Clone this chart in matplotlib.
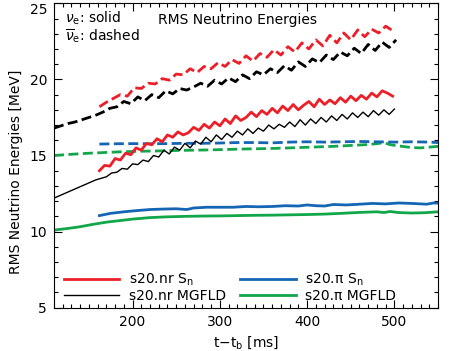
import numpy as np
import matplotlib
matplotlib.use('Agg')
import matplotlib.pyplot as plt

plt.rcParams['font.family'] = ['DejaVu Sans']
plt.rcParams['mathtext.fontset'] = 'dejavusans'

# colours of the four runs
c_red = '#ec1f28'
c_blue = '#1466b4'
c_green = '#12a64a'

# s20.nr Sn, nu_e (solid red)
t_nr_sn = np.arange(162, 499, 6)
e_nr_sn_nue = [14.0, 14.35, 14.3, 14.8, 14.7, 15.15, 15.05, 15.5, 15.35, 15.8,
               15.7, 16.1, 15.9, 16.35, 16.2, 16.55, 16.35, 16.5, 16.85, 16.65,
               17.05, 16.8, 17.2, 16.95, 17.4, 17.1, 17.6, 17.3, 17.5, 17.85,
               17.55, 17.95, 17.7, 18.1, 17.8, 18.25, 17.95, 18.35, 18.0, 18.3,
               18.55, 18.2, 18.7, 18.35, 18.65, 18.4, 18.8, 18.5, 18.9, 18.6,
               18.95, 18.7, 19.1, 18.85, 19.25, 19.1, 18.9]

# s20.nr MGFLD, nu_e (solid black)
t_nr_mg = np.arange(110, 501, 6)
e_nr_mg_nue = [12.2, 12.35, 12.5, 12.65, 12.8, 12.95, 13.1, 13.25, 13.4, 13.5,
               13.6, 13.85, 13.9, 14.15, 14.1, 14.45, 14.4, 14.7, 14.6, 15.0,
               14.9, 15.35, 15.1, 15.55, 15.35, 15.8, 15.5, 15.95, 15.75, 16.2,
               15.9, 16.35, 16.05, 16.45, 16.2, 16.6, 16.35, 16.75, 16.45, 16.8,
               16.6, 17.0, 16.75, 17.05, 16.85, 17.2, 16.9, 17.35, 17.0, 17.4,
               17.1, 17.5, 17.2, 17.6, 17.3, 17.7, 17.4, 17.8, 17.5, 17.85,
               17.55, 17.95, 17.65, 18.0, 17.7, 18.05]

# anti nu_e, dashed
t_nr_sn_b = np.arange(162, 499, 8)
e_nr_sn_nueb = [18.2, 18.5, 18.75, 19.0, 18.9, 19.45, 19.4, 19.75, 19.7, 20.05,
                19.95, 20.35, 20.3, 20.7, 20.45, 20.85, 20.7, 21.1, 20.85, 21.3,
                21.05, 21.55, 21.2, 21.7, 21.45, 21.95, 21.6, 22.15, 21.8, 22.4,
                22.0, 22.6, 22.2, 22.9, 22.4, 23.05, 22.6, 23.25, 22.8, 23.3,
                23.05, 23.5, 23.2]

t_nr_mg_b = np.arange(110, 503, 8)
e_nr_mg_nueb = [16.8, 16.95, 17.1, 17.2, 17.35, 17.5, 17.65, 17.85, 18.1, 18.2,
                18.55, 18.4, 18.85, 18.6, 19.0, 18.8, 19.25, 19.05, 19.4, 19.3,
                19.5, 19.75, 19.55, 19.95, 19.7, 20.1, 19.85, 20.3, 20.05, 20.5,
                20.3, 20.7, 20.45, 20.9, 20.6, 21.15, 20.85, 21.35, 21.1, 21.6,
                21.3, 21.8, 21.55, 22.05, 21.7, 22.3, 21.9, 22.45, 22.1, 22.6]

# s20.pi runs
t_pi_sn_b = [162, 180, 200, 220, 240, 260, 280, 300, 320, 340, 360, 380, 400,
             420, 440, 460, 480, 500, 520, 540, 550]
e_pi_sn_nueb = [15.75, 15.77, 15.78, 15.77, 15.78, 15.8, 15.8, 15.82, 15.85,
                15.85, 15.83, 15.88, 15.9, 15.88, 15.9, 15.92, 15.9, 15.88,
                15.9, 15.88, 15.85]

t_pi_mg_b = [110, 130, 150, 170, 190, 210, 230, 250, 270, 290, 310, 330, 350,
             370, 390, 410, 430, 450, 470, 480, 488, 496, 506, 520, 530, 540, 550]
e_pi_mg_nueb = [15.0, 15.08, 15.15, 15.2, 15.25, 15.28, 15.3, 15.33, 15.35,
                15.37, 15.4, 15.43, 15.45, 15.48, 15.52, 15.56, 15.6, 15.66,
                15.72, 15.78, 15.84, 15.7, 15.62, 15.52, 15.5, 15.55, 15.6]

t_pi_sn = [162, 175, 190, 205, 220, 235, 250, 262, 270, 285, 300, 315, 330, 345,
           360, 375, 390, 400, 410, 420, 430, 445, 460, 475, 490, 505, 520, 530,
           537, 545, 550]
e_pi_sn_nue = [11.05, 11.2, 11.3, 11.38, 11.45, 11.48, 11.5, 11.45, 11.55, 11.6,
               11.6, 11.6, 11.65, 11.63, 11.65, 11.7, 11.68, 11.75, 11.7, 11.68,
               11.78, 11.75, 11.8, 11.85, 11.82, 11.88, 11.85, 11.82, 11.8,
               11.88, 11.87]

t_pi_mg = [110, 125, 140, 155, 170, 185, 200, 220, 240, 260, 280, 300, 320, 340,
           360, 380, 400, 420, 440, 460, 470, 480, 488, 495, 505, 520, 535, 550]
e_pi_mg_nue = [10.1, 10.2, 10.32, 10.48, 10.62, 10.72, 10.82, 10.92, 10.97,
               11.0, 11.02, 11.03, 11.05, 11.07, 11.08, 11.1, 11.12, 11.15, 11.2,
               11.26, 11.28, 11.3, 11.25, 11.32, 11.25, 11.22, 11.24, 11.3]

fig = plt.figure(figsize=(4.52, 3.51), dpi=100)
ax = fig.add_axes([0.1195, 0.1234, 0.8496, 0.8672])

dash = (3.6, 1.6)
lw = 2.0

# dashed: anti electron neutrinos
ax.plot(t_nr_mg_b, e_nr_mg_nueb, color='black', lw=lw, dashes=dash)
ax.plot(t_nr_sn_b, e_nr_sn_nueb, color=c_red, lw=lw, dashes=dash)
ax.plot(t_pi_mg_b, e_pi_mg_nueb, color=c_green, lw=lw, dashes=dash)
ax.plot(t_pi_sn_b, e_pi_sn_nueb, color=c_blue, lw=lw, dashes=dash)

# solid: electron neutrinos
l1, = ax.plot(t_nr_sn, e_nr_sn_nue, color=c_red, lw=lw, label='s20.nr S$_\\mathrm{n}$')
l2, = ax.plot(t_nr_mg, e_nr_mg_nue, color='black', lw=1.0, label='s20.nr MGFLD')
l3, = ax.plot(t_pi_sn, e_pi_sn_nue, color=c_blue, lw=lw, label='s20.π S$_\\mathrm{n}$')
l4, = ax.plot(t_pi_mg, e_pi_mg_nue, color=c_green, lw=lw, label='s20.π MGFLD')

ax.set_xlim(110, 550)
ax.set_ylim(5, 25)
ax.set_xticks([200, 300, 400, 500])
ax.set_xticks(np.arange(110, 551, 10), minor=True)
ax.set_yticks([5, 10, 15, 20, 25])
ax.set_yticks(np.arange(5, 26, 1), minor=True)
ax.tick_params(which='both', direction='in', top=True, right=True,
               labelsize=10, width=0.8)
ax.tick_params(which='major', length=6, pad=5)
ax.tick_params(which='minor', length=3)
for s in ax.spines.values():
    s.set_linewidth(0.8)
# keep the top label inside the figure
ax.get_yticklabels()[-1].set_verticalalignment('top')

ax.set_xlabel('t$-$t$_\\mathrm{b}$ [ms]', fontsize=10, labelpad=4)
ax.set_ylabel('RMS Neutrino Energies [MeV]', fontsize=10)
ax.yaxis.set_label_coords(-0.082, 0.446)

ax.text(0.029, 0.95, '$\\nu_\\mathrm{e}$: solid', transform=ax.transAxes,
        fontsize=10, va='center', ha='left')
ax.text(0.029, 0.892, '$\\overline{\\nu}_\\mathrm{e}$: dashed', transform=ax.transAxes,
        fontsize=10, va='center', ha='left')
ax.text(0.477, 0.945, 'RMS Neutrino Energies', transform=ax.transAxes,
        fontsize=10, va='center', ha='center')

ax.legend(handles=[l1, l2, l3, l4], ncol=2, loc='lower left',
          bbox_to_anchor=(0.0, -0.015), frameon=False, fontsize=10,
          handlelength=4.0, handletextpad=0.7, columnspacing=1.0,
          labelspacing=0.05, borderaxespad=0.3)

fig.savefig('out.png', dpi=100)
